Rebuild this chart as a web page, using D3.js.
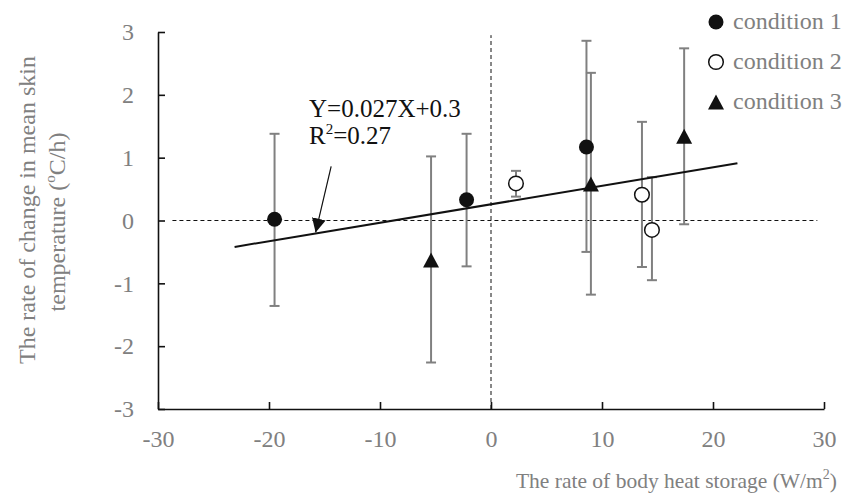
<!DOCTYPE html>
<html>
<head>
<meta charset="utf-8">
<script src="https://cdn.jsdelivr.net/npm/d3@7"></script>
<style>
  body { margin: 0; background: #fff; }
  svg text { font-family: 'Liberation Serif', 'Times New Roman', serif !important; }
</style>
</head>
<body>
<div id="chart"></div>
<script>
const xTicks = [-30, -20, -10, 0, 10, 20, 30]
const yTicks = [-3, -2, -1, 0, 1, 2, 3]

// condition 1 (filled circles)
const cond1X = [-19.5, -2.2, 8.6]
const cond1Y = [0.02, 0.33, 1.17]
const cond1Lo = [-1.36, -0.73, -0.5]
const cond1Hi = [1.38, 1.38, 2.86]

// condition 2 (open circles)
const cond2X = [2.25, 13.6, 14.5]
const cond2Y = [0.59, 0.41, -0.15]
const cond2Lo = [0.38, -0.74, -0.95]
const cond2Hi = [0.79, 1.57, 0.69]

// condition 3 (triangles)
const cond3X = [-5.4, 9.0, 17.4]
const cond3Y = [-0.63, 0.58, 1.34]
const cond3Lo = [-2.26, -1.18, -0.06]
const cond3Hi = [1.02, 2.35, 2.74]

// fitted line as drawn
const trendX = [-23.1, 22.2]
const trendY = [-0.42, 0.91]

// dashed reference lines
const hRefX = [-28.7, 29.4]
const vRefY = [-3, 2.95]

// arrow from label to the line
const arrowX = [-14.4, -15.8]
const arrowY = [0.86, -0.19]

const legendLabels = ['condition 1', 'condition 2', 'condition 3']

const margin = { top: 32, left: 158, right: 29, bottom: 93 }
const width = 853 - margin.left - margin.right
const height = 502 - margin.top - margin.bottom

const grey = '#808080'
const ink = '#111'
const serif = "'Liberation Serif', 'Times New Roman', serif"

const root = d3
  .select('#chart')
  .append('svg')
  .attr('width', 853)
  .attr('height', 502)

const svg = root
  .append('g')
  .attr('transform', 'translate(' + margin.left + ',' + margin.top + ')')

const xPositionScale = d3.scaleLinear().domain([-30, 30]).range([0, width])
const yPositionScale = d3.scaleLinear().domain([-3, 3]).range([height, 0])

// dashed zero lines
svg
  .append('line')
  .attr('x1', xPositionScale(hRefX[0]))
  .attr('x2', xPositionScale(hRefX[1]))
  .attr('y1', yPositionScale(0))
  .attr('y2', yPositionScale(0))
  .attr('stroke', ink)
  .attr('stroke-width', 1)
  .attr('stroke-dasharray', '4,3')
svg
  .append('line')
  .attr('x1', xPositionScale(0))
  .attr('x2', xPositionScale(0))
  .attr('y1', yPositionScale(vRefY[0]))
  .attr('y2', yPositionScale(vRefY[1]))
  .attr('stroke', ink)
  .attr('stroke-width', 1)
  .attr('stroke-dasharray', '4,3')

// axes
const xAxis = d3
  .axisBottom(xPositionScale)
  .tickValues(xTicks)
  .tickFormat(d => String(d))
  .tickSize(-7)
  .tickSizeOuter(0)
  .tickPadding(21)
svg
  .append('g')
  .attr('class', 'axis x-axis')
  .attr('transform', 'translate(0,' + height + ')')
  .call(xAxis)

const yAxis = d3
  .axisLeft(yPositionScale)
  .tickValues(yTicks)
  .tickFormat(d => String(d))
  .tickSize(-7)
  .tickSizeOuter(0)
  .tickPadding(24)
svg
  .append('g')
  .attr('class', 'axis y-axis')
  .call(yAxis)

svg.selectAll('.axis').attr('font-family', serif).attr('font-size', 24)
svg.selectAll('.axis path, .axis line').attr('stroke', ink).attr('stroke-width', 1.6)
svg.selectAll('.axis text').attr('fill', grey)

// error bars + markers
const series = [
  { x: cond1X, y: cond1Y, lo: cond1Lo, hi: cond1Hi, shape: 'filled' },
  { x: cond2X, y: cond2Y, lo: cond2Lo, hi: cond2Hi, shape: 'open' },
  { x: cond3X, y: cond3Y, lo: cond3Lo, hi: cond3Hi, shape: 'tri' }
]

const triPath = 'M0,-7.5L8,7.5L-8,7.5Z'

series.forEach(s => {
  const pts = s.x.map((x, i) => ({ x: x, y: s.y[i], lo: s.lo[i], hi: s.hi[i] }))
  const g = svg.append('g')
  const bars = g.selectAll('.err').data(pts).enter().append('g')
  bars
    .append('line')
    .attr('x1', d => xPositionScale(d.x))
    .attr('x2', d => xPositionScale(d.x))
    .attr('y1', d => yPositionScale(d.lo))
    .attr('y2', d => yPositionScale(d.hi))
  bars
    .append('line')
    .attr('x1', d => xPositionScale(d.x) - 5)
    .attr('x2', d => xPositionScale(d.x) + 5)
    .attr('y1', d => yPositionScale(d.lo))
    .attr('y2', d => yPositionScale(d.lo))
  bars
    .append('line')
    .attr('x1', d => xPositionScale(d.x) - 5)
    .attr('x2', d => xPositionScale(d.x) + 5)
    .attr('y1', d => yPositionScale(d.hi))
    .attr('y2', d => yPositionScale(d.hi))
  bars.selectAll('line').attr('stroke', grey).attr('stroke-width', 2)
  s.pts = pts
})

// fitted line
const line = d3
  .line()
  .x(d => xPositionScale(d[0]))
  .y(d => yPositionScale(d[1]))
svg
  .append('path')
  .datum(trendX.map((x, i) => [x, trendY[i]]))
  .attr('d', line)
  .attr('stroke', ink)
  .attr('stroke-width', 2)
  .attr('fill', 'none')

function drawMarker(sel, shape) {
  if (shape === 'tri') {
    sel.append('path').attr('d', triPath).attr('fill', ink)
  } else if (shape === 'open') {
    sel.append('circle').attr('r', 7.3).attr('fill', '#fff').attr('stroke', ink).attr('stroke-width', 1.5)
  } else {
    sel.append('circle').attr('r', 7.5).attr('fill', ink)
  }
}

series.forEach(s => {
  svg
    .append('g')
    .selectAll('g')
    .data(s.pts)
    .enter()
    .append('g')
    .attr('transform', d => 'translate(' + xPositionScale(d.x) + ',' + yPositionScale(d.y) + ')')
    .each(function() {
      drawMarker(d3.select(this), s.shape)
    })
})

// annotation
svg
  .append('defs')
  .append('marker')
  .attr('id', 'head')
  .attr('viewBox', '0 0 10 10')
  .attr('refX', 10)
  .attr('refY', 5)
  .attr('markerWidth', 14)
  .attr('markerHeight', 14)
  .attr('markerUnits', 'userSpaceOnUse')
  .attr('orient', 'auto')
  .append('path')
  .attr('d', 'M0,0L10,5L0,10Z')
  .attr('fill', ink)

svg
  .append('line')
  .attr('x1', xPositionScale(arrowX[0]))
  .attr('y1', yPositionScale(arrowY[0]))
  .attr('x2', xPositionScale(arrowX[1]))
  .attr('y2', yPositionScale(arrowY[1]))
  .attr('stroke', ink)
  .attr('stroke-width', 1.2)
  .attr('marker-end', 'url(#head)')

const ann = root
  .append('text')
  .attr('x', 309)
  .attr('y', 117)
  .attr('font-size', 25)
  .attr('fill', ink)
ann.text('Y=0.027X+0.3')
const ann2 = root
  .append('text')
  .attr('x', 309)
  .attr('y', 144)
  .attr('font-size', 25)
  .attr('fill', ink)
ann2.append('tspan').text('R')
ann2.append('tspan').attr('font-size', 15).attr('dy', -10).text('2')
ann2.append('tspan').attr('dy', 10).text('=0.27')

// legend
const legend = root
  .selectAll('.legend')
  .data(legendLabels)
  .enter()
  .append('g')
  .attr('class', 'legend')
  .attr('transform', (d, i) => 'translate(716,' + (22 + i * 40) + ')')
legend.each(function(d, i) {
  drawMarker(d3.select(this), series[i].shape)
})
legend
  .append('text')
  .attr('x', 17)
  .attr('y', 7)
  .attr('font-size', 24)
  .attr('fill', grey)
  .text(d => d)

// axis titles
const xTitle = root
  .append('text')
  .attr('x', 837)
  .attr('y', 488)
  .attr('text-anchor', 'end')
  .attr('font-size', 21.5)
  .attr('fill', grey)
xTitle.append('tspan').text('The rate of body heat storage (W/m')
xTitle.append('tspan').attr('font-size', 14).attr('dy', -9).text('2')
xTitle.append('tspan').attr('dy', 9).text(')')

const yTitle = root
  .append('g')
  .attr('transform', 'translate(0,210) rotate(-90)')
yTitle
  .append('text')
  .attr('x', 0)
  .attr('y', 35)
  .attr('text-anchor', 'middle')
  .attr('font-size', 24)
  .attr('fill', grey)
  .text('The rate of change in mean skin')
const yt2 = yTitle
  .append('text')
  .attr('x', -12)
  .attr('y', 65)
  .attr('text-anchor', 'middle')
  .attr('font-size', 24)
  .attr('fill', grey)
yt2.append('tspan').text('temperature (')
yt2.append('tspan').attr('font-size', 15).attr('dy', -10).text('o')
yt2.append('tspan').attr('dy', 10).text('C/h)')
</script>
</body>
</html>
